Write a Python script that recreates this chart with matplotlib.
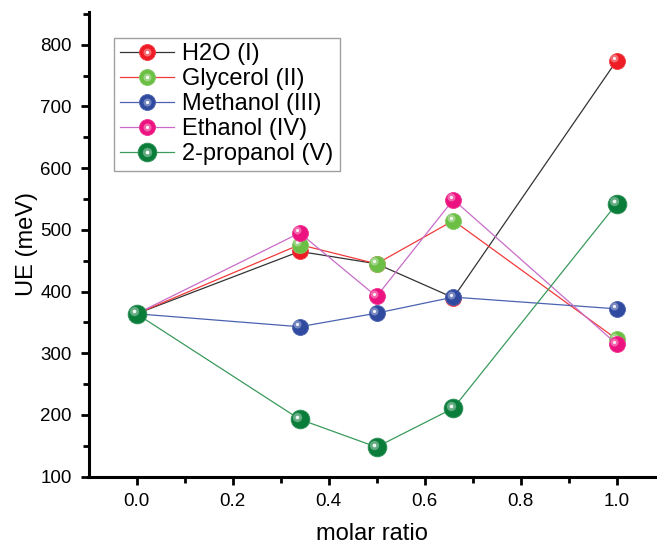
import matplotlib
matplotlib.use("Agg")
import matplotlib.pyplot as plt
import matplotlib.transforms as mtransforms
from matplotlib.lines import Line2D
from matplotlib.legend_handler import HandlerTuple
import numpy as np

plt.rcParams['font.family'] = ['Liberation Sans', 'DejaVu Sans']

# molar ratio and UE values (meV)
x = [0.0, 0.34, 0.5, 0.66, 1.0]
h2o = [364, 465, 445, 390, 774]
glycerol = [364, 476, 445, 515, 323]
methanol = [364, 343, 365, 391, 372]
ethanol = [364, 495, 392, 549, 315]
propanol = [364, 193, 148, 211, 542]

labels = ['H2O (I)', 'Glycerol (II)', 'Methanol (III)', 'Ethanol (IV)', '2-propanol (V)']
series = [h2o, glycerol, methanol, ethanol, propanol]
line_colors = ['#333333', '#F03A3A', '#4A63B0', '#C86CC8', '#3A9A5C']
marker_colors = ['#EE1C25', '#6CBF45', '#2F4A9F', '#EC1280', '#0B7D3B']
marker_sizes = [11.5, 11.5, 11.5, 11.5, 13.5]


def lighten(c, f):
    rgb = np.array(matplotlib.colors.to_rgb(c))
    return tuple(rgb + (1 - rgb) * f)


fig = plt.figure(figsize=(6.57, 5.47), dpi=100)
ax = fig.add_axes([88.5 / 657, 1 - 476.7 / 547, 566.5 / 657, 464.7 / 547])

# small offset for the sphere highlight
hl = mtransforms.ScaledTranslation(-2.5 / 100, 2.5 / 100, fig.dpi_scale_trans)

handles = []
for y, lab, lc, mc, ms in zip(series, labels, line_colors, marker_colors, marker_sizes):
    ln, = ax.plot(x, y, '-', color=lc, lw=0.9, marker='o', ms=ms,
                  mfc=mc, mec=lighten(mc, 0.15), mew=0.6, label=lab)
    ax.plot(x, y, 'o', ms=ms * 0.5, mfc=lighten(mc, 0.35), mec='none',
            transform=ax.transData + hl)
    ax.plot(x, y, 'o', ms=ms * 0.2, mfc='white', mec='none', alpha=0.9,
            transform=ax.transData + hl)
    h1 = Line2D([], [], ls='none', marker='o', ms=ms * 0.5, mfc=lighten(mc, 0.35), mec='none')
    h2 = Line2D([], [], ls='none', marker='o', ms=ms * 0.2, mfc='white', mec='none')
    handles.append((ln, h1, h2))

ax.set_xlim(-0.1, 1.08)
ax.set_ylim(100, 853)
ax.set_xticks(np.arange(0, 1.01, 0.2))
ax.set_xticks(np.arange(0.1, 1.01, 0.2), minor=True)
ax.set_yticks(np.arange(100, 801, 100))
ax.set_yticks(np.arange(150, 851, 100), minor=True)
ax.xaxis.set_major_formatter(matplotlib.ticker.FormatStrFormatter('%.1f'))

for s in ['top', 'right']:
    ax.spines[s].set_visible(False)
for s in ['left', 'bottom']:
    ax.spines[s].set_linewidth(2.2)
ax.tick_params(which='major', direction='out', length=6, width=2, labelsize=13.5, pad=6)
ax.tick_params(which='minor', direction='out', length=4, width=2)

ax.set_xlabel('molar ratio', fontsize=17, labelpad=9)
ax.set_ylabel('UE (meV)', fontsize=17, labelpad=2)

leg = ax.legend(handles, labels, handler_map={tuple: HandlerTuple(ndivide=1, pad=0)},
                loc='upper left', bbox_to_anchor=(0.045, 0.945), borderaxespad=0,
                fontsize=17, frameon=True, fancybox=False, edgecolor='#888888',
                handlelength=2.3, handletextpad=0.35, labelspacing=0.12,
                borderpad=0.25)
leg.get_frame().set_linewidth(1.0)

fig.savefig('out.png', dpi=100)
